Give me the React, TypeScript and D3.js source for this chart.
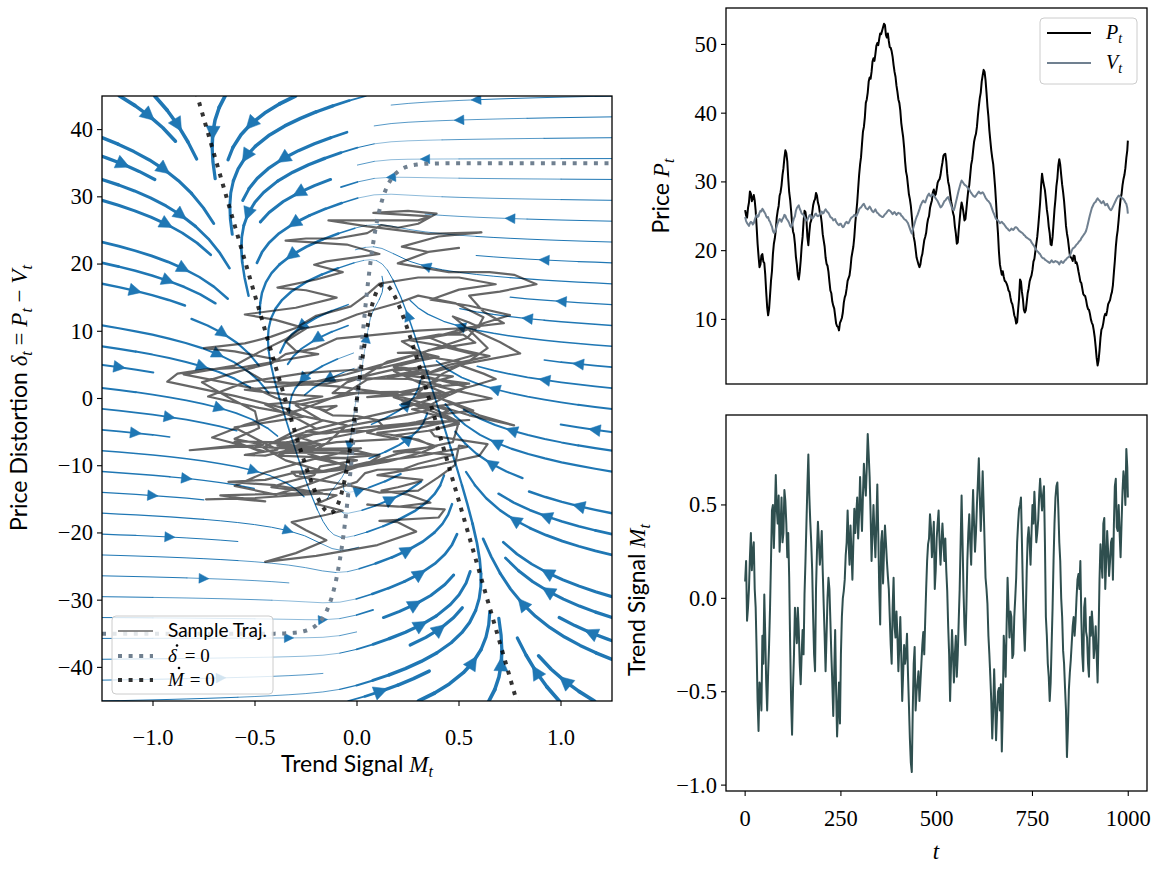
import React, { useMemo } from "react";
import * as d3 from "d3";

// ---------------- data ----------------
// sampled every 2.5 steps (last sample at t = 999)
const priceP = [
  25.9, 25.1, 24.8, 26.2, 27.0, 28.6, 28.3, 27.2, 27.6, 28.1, 27.3, 25.8, 23.5, 21.0, 19.2, 17.6, 18.0, 19.3, 19.5, 18.4,
  18.2, 16.5, 14.0, 11.8, 10.6, 11.5, 13.5, 15.6, 17.0, 19.5, 21.0, 21.8, 23.0, 24.8, 25.8, 26.5, 28.0, 28.5, 29.5, 31.0,
  32.0, 33.5, 34.6, 34.2, 33.0, 30.5, 28.5, 27.4, 25.8, 24.0, 22.8, 22.3, 21.0, 19.1, 18.0, 16.4, 15.8, 16.9, 18.5, 20.6,
  22.0, 24.2, 25.8, 25.6, 24.5, 22.0, 20.8, 22.6, 24.0, 24.4, 25.5, 26.6, 27.2, 27.5, 28.4, 28.0, 27.0, 26.5, 25.5, 25.1,
  24.0, 22.4, 21.5, 20.6, 19.0, 18.1, 17.8, 16.9, 15.5, 14.2, 13.8, 12.6, 12.0, 11.6, 10.5, 9.4, 9.0, 8.9, 8.4, 9.5,
  9.8, 10.2, 11.0, 12.4, 13.2, 13.6, 14.5, 15.6, 16.0, 16.4, 17.5, 19.0, 19.8, 20.6, 22.0, 24.0, 25.5, 27.0, 29.0, 31.0,
  32.5, 33.6, 35.5, 37.3, 38.0, 39.4, 41.5, 42.0, 43.0, 44.6, 45.2, 45.0, 46.0, 47.5, 48.0, 47.6, 48.6, 49.8, 50.2, 49.9,
  50.8, 51.6, 51.5, 52.0, 52.5, 53.0, 52.8, 51.4, 51.0, 51.6, 50.5, 49.6, 49.5, 49.0, 48.2, 47.0, 46.0, 45.3, 44.0, 43.1,
  42.0, 41.5, 40.4, 38.6, 37.5, 36.5, 35.0, 33.0, 31.5, 30.8, 29.5, 28.2, 27.5, 26.5, 25.0, 23.4, 22.0, 21.3, 20.2, 19.0,
  18.5, 18.0, 17.6, 18.0, 19.0, 19.5, 20.5, 21.5, 22.0, 22.6, 23.8, 24.6, 25.0, 26.2, 26.8, 27.3, 28.5, 28.9, 28.0, 28.2,
  29.0, 29.9, 30.2, 30.4, 31.0, 32.0, 32.8, 33.8, 34.0, 34.1, 33.0, 31.2, 30.0, 29.4, 28.3, 27.2, 26.5, 25.5, 25.0, 23.5,
  22.5, 21.0, 21.2, 23.0, 24.5, 26.0, 27.0, 26.4, 25.5, 24.4, 24.6, 26.0, 27.5, 28.8, 29.5, 31.0, 32.5, 33.2, 34.5, 35.8,
  36.5, 37.0, 38.0, 39.6, 41.0, 42.2, 43.0, 44.6, 45.5, 46.3, 46.0, 44.8, 43.0, 41.0, 39.5, 37.5, 36.0, 34.6, 33.5, 32.6,
  31.0, 29.2, 27.0, 24.5, 22.5, 19.8, 18.0, 17.2, 16.5, 17.0, 16.2, 15.6, 15.5, 15.2, 14.8, 14.2, 14.0, 13.2, 12.5, 12.2,
  11.5, 10.6, 10.2, 9.4, 9.6, 11.4, 13.0, 15.8, 15.5, 14.0, 13.0, 11.4, 11.0, 11.3, 12.5, 13.8, 14.5, 15.5, 16.0, 16.4,
  17.2, 18.4, 18.8, 19.9, 21.0, 22.0, 23.5, 25.2, 27.0, 29.4, 31.2, 30.2, 29.5, 28.8, 27.5, 26.0, 25.0, 23.5, 22.5, 20.9,
  20.8, 22.0, 24.0, 26.0, 27.5, 29.4, 30.5, 32.4, 33.3, 32.5, 31.0, 29.6, 28.5, 27.2, 25.5, 23.6, 22.5, 21.7, 20.5, 19.4,
  19.0, 18.9, 18.5, 19.3, 19.2, 18.2, 18.3, 17.8, 17.0, 16.3, 15.5, 15.3, 14.5, 13.7, 13.5, 13.4, 12.8, 12.0, 11.5, 11.4,
  10.8, 10.0, 9.5, 9.2, 8.4, 7.4, 6.0, 4.4, 3.3, 4.0, 5.5, 7.3, 8.5, 8.8, 9.5, 10.4, 10.8, 10.6, 11.3, 12.2,
  12.5, 12.8, 13.5, 14.0, 15.0, 16.8, 18.5, 20.5, 22.0, 23.0, 24.5, 26.2, 27.5, 28.2, 29.5, 30.4, 31.0, 32.0, 33.5, 34.6,
  36.0,
];

const valueV = [
  24.9, 24.3, 24.0, 23.8, 23.6, 24.0, 24.2, 24.1, 23.8, 24.0, 24.5, 24.9, 25.2, 24.9, 25.0, 25.5, 25.8, 25.7, 26.1, 25.9,
  25.6, 25.4, 25.0, 24.8, 24.9, 24.4, 24.2, 23.8, 23.5, 22.9, 22.6, 22.7, 23.0, 23.6, 24.0, 24.3, 24.6, 24.5, 24.2, 24.6,
  24.8, 25.2, 25.1, 24.7, 24.5, 24.3, 24.0, 23.6, 23.4, 23.7, 24.2, 24.7, 25.0, 25.8, 26.2, 26.4, 26.6, 26.1, 25.8, 25.4,
  25.3, 25.2, 24.9, 24.6, 24.4, 24.5, 24.8, 25.1, 25.2, 24.9, 24.7, 24.8, 25.0, 25.3, 25.4, 25.1, 25.0, 25.1, 25.3, 25.6,
  25.7, 25.4, 25.5, 25.8, 26.0, 25.8, 25.6, 25.5, 25.2, 24.9, 24.8, 24.7, 24.4, 24.5, 24.6, 24.2, 24.0, 23.8, 23.7, 23.9,
  23.9, 23.6, 23.4, 23.5, 23.8, 24.1, 24.2, 24.0, 24.0, 24.3, 24.6, 24.8, 24.9, 25.0, 25.2, 25.1, 25.0, 25.3, 25.6, 26.0,
  26.2, 26.3, 26.5, 26.7, 26.8, 26.5, 26.2, 26.1, 26.0, 26.2, 26.4, 26.2, 25.9, 25.7, 25.6, 25.8, 26.0, 25.7, 25.5, 25.4,
  25.2, 25.1, 25.0, 24.9, 24.9, 25.1, 25.3, 25.4, 25.6, 25.8, 25.9, 25.8, 25.7, 25.5, 25.3, 25.5, 25.6, 25.4, 25.2, 25.4,
  25.5, 25.4, 25.4, 25.1, 25.0, 24.8, 24.6, 24.5, 24.4, 24.2, 24.0, 23.6, 23.2, 22.8, 22.5, 23.0, 23.5, 24.0, 24.5, 24.9,
  25.2, 25.6, 26.0, 26.5, 26.8, 27.1, 27.3, 27.1, 27.0, 27.4, 27.8, 28.1, 28.3, 28.0, 27.9, 28.1, 28.2, 28.0, 27.8, 27.6,
  27.4, 27.2, 26.9, 26.6, 26.3, 26.4, 26.6, 26.9, 27.2, 27.3, 27.5, 27.7, 27.8, 27.4, 27.0, 26.6, 26.2, 26.0, 25.9, 26.4,
  27.0, 27.6, 28.2, 28.8, 29.3, 29.8, 30.2, 30.0, 29.8, 29.6, 29.5, 29.4, 29.2, 29.0, 28.9, 28.6, 28.4, 28.2, 28.0, 27.9,
  27.8, 28.0, 28.2, 28.4, 28.6, 28.4, 28.3, 28.4, 28.5, 28.3, 28.0, 27.7, 27.5, 27.3, 27.2, 27.0, 26.8, 26.4, 26.0, 25.6,
  25.3, 24.9, 24.6, 24.5, 24.4, 24.2, 24.0, 24.1, 24.2, 24.0, 23.9, 23.7, 23.5, 23.3, 23.2, 23.0, 22.9, 23.0, 23.2, 23.1,
  23.0, 23.2, 23.4, 23.4, 23.3, 23.1, 22.9, 22.8, 22.7, 22.6, 22.5, 22.3, 22.2, 22.0, 21.9, 21.8, 21.7, 21.6, 21.5, 21.2,
  21.0, 20.8, 20.6, 20.3, 20.1, 19.9, 19.8, 19.6, 19.5, 19.2, 19.0, 18.9, 18.9, 18.7, 18.6, 18.5, 18.4, 18.3, 18.2, 18.4,
  18.6, 18.4, 18.3, 18.4, 18.5, 18.4, 18.4, 18.2, 18.0, 18.3, 18.5, 18.3, 18.2, 18.4, 18.6, 18.7, 18.9, 19.0, 19.1, 19.3,
  19.6, 20.0, 20.3, 20.4, 20.5, 20.7, 20.9, 21.0, 21.2, 21.4, 21.5, 21.8, 22.0, 22.2, 22.4, 22.6, 22.9, 23.4, 24.0, 24.6,
  25.2, 25.7, 26.2, 26.5, 26.8, 27.0, 27.1, 27.4, 27.6, 27.4, 27.3, 27.1, 26.9, 27.0, 27.2, 26.9, 26.6, 26.7, 26.8, 26.5,
  26.2, 26.0, 25.9, 26.1, 26.4, 26.7, 27.0, 27.3, 27.6, 27.8, 28.0, 27.9, 27.8, 27.7, 27.6, 27.5, 27.3, 27.0, 26.8, 26.2,
  25.4,
];

const trendM = [
  0.09, 0.2, -0.12, -0.05, 0.05, 0.22, 0.35, 0.15, 0.25, 0.3, 0.05, -0.05, -0.28, -0.55, -0.71, -0.45, -0.48, -0.6, -0.2, -0.35,
  0.02, -0.2, -0.45, -0.6, -0.4, -0.25, -0.05, 0.2, 0.47, 0.5, 0.27, 0.45, 0.66, 0.48, 0.4, 0.55, 0.25, 0.38, 0.54, 0.3,
  0.35, 0.58, 0.52, 0.4, 0.22, 0.35, 0.11, -0.25, -0.55, -0.73, -0.48, -0.3, -0.05, -0.15, -0.24, -0.05, -0.17, -0.35, -0.46, -0.3,
  -0.17, -0.3, 0.02, 0.2, 0.4, 0.6, 0.77, 0.55, 0.41, 0.3, 0.15, -0.1, -0.3, -0.39, 0.05, 0.25, 0.41, 0.3, 0.18, 0.25,
  0.36, 0.15, -0.03, -0.2, -0.39, -0.2, 0.0, 0.11, 0.05, -0.12, -0.3, -0.45, -0.63, -0.4, -0.17, -0.5, -0.74, -0.6, -0.45, -0.67,
  -0.3, -0.1, 0.0, 0.04, 0.1, 0.23, 0.3, 0.47, 0.3, 0.18, 0.39, 0.25, 0.1, 0.3, 0.48, 0.35, 0.45, 0.54, 0.32, 0.45,
  0.65, 0.5, 0.36, 0.55, 0.72, 0.62, 0.55, 0.7, 0.88, 0.77, 0.65, 0.45, 0.2, 0.35, 0.5, 0.35, 0.22, 0.4, 0.61, 0.35,
  0.05, -0.14, 0.3, 0.36, 0.08, 0.25, 0.39, 0.3, 0.2, 0.12, 0.05, -0.1, -0.25, -0.35, -0.05, 0.11, -0.15, -0.21, -0.07, -0.2,
  -0.39, -0.25, -0.1, -0.3, -0.55, -0.4, -0.25, -0.35, -0.3, -0.19, -0.4, -0.57, -0.75, -0.88, -0.93, -0.6, -0.35, -0.26, -0.6, -0.5,
  -0.45, -0.39, -0.55, -0.45, -0.35, -0.25, -0.18, -0.3, -0.12, 0.05, 0.2, 0.29, 0.32, 0.45, 0.38, 0.22, 0.3, 0.41, 0.05, 0.15,
  0.32, 0.4, 0.47, 0.3, 0.18, 0.3, 0.4, 0.3, 0.2, 0.32, 0.15, 0.04, -0.15, -0.3, -0.55, -0.35, -0.17, -0.3, -0.45, -0.3,
  -0.2, -0.42, -0.3, -0.12, 0.05, 0.3, 0.55, 0.3, 0.04, -0.15, -0.25, -0.05, 0.2, 0.35, 0.45, 0.3, 0.18, 0.4, 0.58, 0.4,
  0.25, 0.35, 0.5, 0.62, 0.75, 0.55, 0.36, 0.5, 0.68, 0.5, 0.3, 0.11, 0.05, -0.03, -0.2, -0.3, -0.42, -0.55, -0.75, -0.6,
  -0.38, -0.55, -0.76, -0.62, -0.5, -0.48, -0.6, -0.46, -0.82, -0.6, -0.2, -0.3, -0.42, -0.15, 0.11, -0.05, -0.21, -0.07, -0.1, -0.32,
  -0.3, -0.1, 0.0, 0.11, 0.3, 0.4, 0.48, 0.5, 0.54, 0.3, 0.05, -0.15, -0.28, -0.1, 0.15, 0.32, 0.38, 0.3, 0.18, 0.35,
  0.5, 0.4, 0.57, 0.45, 0.3, 0.35, 0.42, 0.55, 0.64, 0.55, 0.47, 0.55, 0.6, 0.3, -0.1, -0.2, -0.35, -0.42, -0.55, -0.45,
  -0.25, -0.05, 0.2, 0.4, 0.54, 0.6, 0.62, 0.48, 0.3, 0.2, 0.0, -0.1, -0.28, -0.35, -0.48, -0.6, -0.85, -0.7, -0.49, -0.4,
  -0.33, -0.24, -0.15, -0.1, -0.2, -0.12, 0.0, 0.1, 0.13, 0.05, 0.2, -0.1, -0.3, -0.39, -0.05, 0.0, -0.18, -0.21, -0.35, -0.42,
  -0.1, -0.2, -0.07, -0.15, -0.32, -0.25, -0.15, -0.3, -0.45, -0.2, 0.1, 0.29, 0.2, 0.11, 0.4, 0.43, 0.05, 0.2, 0.36, 0.25,
  0.12, 0.2, 0.3, 0.32, 0.1, 0.39, 0.6, 0.64, 0.38, 0.36, 0.5, 0.35, 0.22, 0.4, 0.57, 0.68, 0.62, 0.5, 0.8, 0.7,
  0.54,
];

const timeIdx = priceP.map((_, i) => (i === priceP.length - 1 ? 999 : i * 2.5));

const deltaTicks = [-40, -30, -20, -10, 0, 10, 20, 30, 40];
const mTicks = [-1.0, -0.5, 0.0, 0.5, 1.0];
const priceTicks = [10, 20, 30, 40, 50];
const trendTicks = [-1.0, -0.5, 0.0, 0.5];
const timeTicks = [0, 250, 500, 750, 1000];

// phase-plane model (fitted to the nullclines seen in the picture)
const deltaNullAmp = 35; // delta-dot = 0 :  delta = 35 tanh(10 M)
const deltaNullSlope = 10;
const mGain = 37.2; // M-dot = 0 : delta = 37.2 tanh(9 M) - 105 M
const mSteep = 9;
const mDamp = 105;
const relaxRatio = 8.6;

// ---------------- styles ----------------
const SERIF = "'Liberation Serif', 'DejaVu Serif', serif";
const SANS = "Lato, 'DejaVu Sans', sans-serif";
const BLUE = "#1f77b4";
const SLATE = "#708090";
const DARKSLATE = "#2f4f4f";

function fieldAt(M: number, d: number): [number, number] {
  const dm = mGain * Math.tanh(mSteep * M) - mDamp * M - d;
  const dd = relaxRatio * (deltaNullAmp * Math.tanh(deltaNullSlope * M) - d);
  return [dm, dd];
}

const XR: [number, number] = [-1.25, 1.25];
const YR: [number, number] = [-45, 45];

function computeStreams() {
  const xs = XR[1] - XR[0];
  const ys = YR[1] - YR[0];
  const NM = 30;
  const mask = new Uint8Array(NM * NM);
  let cells: number[] = [];
  let current = -1;
  const inside = (X: number, Y: number) => X >= 0 && X <= 1 && Y >= 0 && Y <= 1;
  const cellOf = (X: number, Y: number) =>
    Math.round(Y * (NM - 1)) * NM + Math.round(X * (NM - 1));
  const vel = (X: number, Y: number, sgn: number): [number, number] | null => {
    const [a, b] = fieldAt(XR[0] + X * xs, YR[0] + Y * ys);
    const u = a / xs;
    const v = b / ys;
    const sp = Math.hypot(u, v);
    if (sp === 0) return null;
    return [(sgn * u) / sp, (sgn * v) / sp];
  };
  const update = (X: number, Y: number) => {
    if (!inside(X, Y)) return false;
    const c = cellOf(X, Y);
    if (c !== current) {
      if (mask[c] === 0) {
        cells.push(c);
        mask[c] = 1;
        current = c;
      } else return false;
    }
    return true;
  };
  const eulerToEdge = (pts: [number, number][], sgn: number) => {
    const [xi, yi] = pts[pts.length - 1];
    const k = vel(xi, yi, sgn);
    if (!k) return 0;
    const [cx, cy] = k;
    const dsx = cx === 0 ? Infinity : cx < 0 ? xi / -cx : (1 - xi) / cx;
    const dsy = cy === 0 ? Infinity : cy < 0 ? yi / -cy : (1 - yi) / cy;
    const ds = Math.min(dsx, dsy);
    pts.push([xi + cx * ds, yi + cy * ds]);
    return ds;
  };
  const rk12 = (X0: number, Y0: number, sgn: number) => {
    const maxerror = 0.003;
    const maxds = Math.min(1 / NM, 0.1);
    const maxlength = 4;
    let ds = maxds;
    let stotal = 0;
    let xi = X0;
    let yi = Y0;
    const pts: [number, number][] = [];
    for (let it = 0; it < 20000; it++) {
      if (inside(xi, yi)) pts.push([xi, yi]);
      else {
        if (pts.length) stotal += eulerToEdge(pts, sgn);
        break;
      }
      const k1 = vel(xi, yi, sgn);
      if (!k1) break;
      const x2 = xi + ds * k1[0];
      const y2 = yi + ds * k1[1];
      if (!inside(x2, y2)) {
        stotal += eulerToEdge(pts, sgn);
        break;
      }
      const k2 = vel(x2, y2, sgn);
      if (!k2) break;
      const dx1 = ds * k1[0];
      const dy1 = ds * k1[1];
      const dx2 = ds * 0.5 * (k1[0] + k2[0]);
      const dy2 = ds * 0.5 * (k1[1] + k2[1]);
      const err = Math.hypot(dx2 - dx1, dy2 - dy1);
      if (err < maxerror) {
        xi += dx2;
        yi += dy2;
        if (!update(xi, yi)) break;
        if (stotal + ds > maxlength) break;
        stotal += ds;
      }
      ds = err === 0 ? maxds : Math.min(maxds, 0.85 * ds * Math.sqrt(maxerror / err));
    }
    return { stotal, pts };
  };

  // spiral starting points
  const starts: [number, number][] = [];
  {
    let xfirst = 0, yfirst = 1, xlast = NM - 1, ylast = NM - 1, x = 0, y = 0, dir = 0;
    for (let i = 0; i < NM * NM; i++) {
      starts.push([x, y]);
      if (dir === 0) { x++; if (x >= xlast) { xlast--; dir = 1; } }
      else if (dir === 1) { y++; if (y >= ylast) { ylast--; dir = 2; } }
      else if (dir === 2) { x--; if (x <= xfirst) { xfirst++; dir = 3; } }
      else { y--; if (y <= yfirst) { yfirst++; dir = 0; } }
    }
  }

  const trajs: [number, number][][] = [];
  for (const [xm, ym] of starts) {
    if (mask[ym * NM + xm] !== 0) continue;
    const X0 = xm / (NM - 1);
    const Y0 = ym / (NM - 1);
    cells = [];
    const c0 = cellOf(X0, Y0);
    if (c0 !== current) {
      if (mask[c0] === 0) {
        cells.push(c0);
        mask[c0] = 1;
        current = c0;
      } else continue;
    }
    const b = rk12(X0, Y0, -1);
    current = cellOf(X0, Y0);
    const f = rk12(X0, Y0, 1);
    const total = b.stotal + f.stotal;
    const pts = b.pts.slice().reverse().concat(f.pts.slice(1));
    if (total > 0.1 && pts.length >= 2) {
      trajs.push(pts.map(([X, Y]) => [XR[0] + X * xs, YR[0] + Y * ys] as [number, number]));
    } else {
      for (const c of cells) mask[c] = 0;
    }
  }
  return trajs;
}

type Seg = { t: string; f?: "sans" | "it" | "rm"; sub?: string };

function MathLabel(props: {
  segs: Seg[];
  size: number;
  x: number;
  y: number;
  rotate?: boolean;
  anchor?: "start" | "middle" | "end";
}) {
  const { segs, size, x, y, rotate, anchor = "middle" } = props;
  const children: any[] = [];
  let pending = 0;
  segs.forEach((s, i) => {
    children.push(
      <tspan
        key={`m${i}`}
        dy={pending !== 0 ? pending : undefined}
        fontFamily={s.f === "sans" ? SANS : SERIF}
        fontStyle={s.f === "it" ? "italic" : "normal"}
      >
        {s.t}
      </tspan>
    );
    pending = 0;
    if (s.sub) {
      children.push(
        <tspan
          key={`s${i}`}
          dy={size * 0.22}
          fontFamily={SERIF}
          fontStyle="italic"
          fontSize={size * 0.7}
        >
          {s.sub}
        </tspan>
      );
      pending = -size * 0.22;
    }
  });
  const transform = rotate ? `translate(${x},${y}) rotate(-90)` : `translate(${x},${y})`;
  return (
    <text transform={transform} textAnchor={anchor} fontSize={size} fill="#000" style={{ whiteSpace: "pre" }}>
      {children}
    </text>
  );
}

export default function App() {
  const W = 1162;
  const H = 872;
  const L = { x0: 102, x1: 612, y0: 96, y1: 701 };
  const R1 = { x0: 726, x1: 1147, y0: 8, y1: 384 };
  const R2 = { x0: 726, x1: 1147, y0: 415, y1: 791 };

  const xM = d3.scaleLinear().domain(XR).range([L.x0, L.x1]);
  const yD = d3.scaleLinear().domain(YR).range([L.y1, L.y0]);
  const xT = d3.scaleLinear().domain([-49.95, 1048.95]).range([R1.x0, R1.x1]);
  const yP = d3.scaleLinear().domain([0.6, 55.3]).range([R1.y1, R1.y0]);
  const yMt = d3.scaleLinear().domain([-1.0315, 0.9815]).range([R2.y1, R2.y0]);

  const streams = useMemo(() => {
    const trajs = computeStreams();
    let maxSpeed = 0;
    for (let i = 0; i <= 50; i++)
      for (let j = 0; j <= 50; j++) {
        const [a, b] = fieldAt(XR[0] + (i / 50) * 2.5, YR[0] + (j / 50) * 90);
        maxSpeed = Math.max(maxSpeed, Math.hypot(a, b));
      }
    const lwAt = (M: number, d: number) => {
      const [a, b] = fieldAt(M, d);
      return 0.35 + 3.3 * (Math.hypot(a, b) / maxSpeed);
    };
    const out: { runs: { d: string; w: number }[]; arrow: { x: number; y: number; ang: number; w: number } }[] = [];
    for (const t of trajs) {
      const px = t.map(([m, d]) => [xM(m), yD(d)] as [number, number]);
      const ws = t.map(([m, d]) => lwAt(m, d));
      const runs: { d: string; w: number }[] = [];
      let runPts: [number, number][] = [px[0]];
      let runW = Math.round(ws[0] * 4) / 4;
      for (let i = 0; i < px.length - 1; i++) {
        const q = Math.round(ws[i] * 4) / 4;
        if (q !== runW && runPts.length > 1) {
          runs.push({ d: d3.line()(runPts) as string, w: runW });
          runPts = [px[i]];
        }
        runW = q;
        runPts.push(px[i + 1]);
      }
      if (runPts.length > 1) runs.push({ d: d3.line()(runPts) as string, w: runW });
      const s: number[] = [];
      let acc = 0;
      for (let i = 0; i < t.length - 1; i++) {
        acc += Math.hypot(t[i + 1][0] - t[i][0], t[i + 1][1] - t[i][1]);
        s.push(acc);
      }
      let n = d3.bisectLeft(s, acc / 2);
      n = Math.min(n, px.length - 2);
      const tail = px[n];
      const head = [(px[n][0] + px[n + 1][0]) / 2, (px[n][1] + px[n + 1][1]) / 2];
      const ang = Math.atan2(head[1] - tail[1], head[0] - tail[0]);
      out.push({ runs, arrow: { x: tail[0], y: tail[1], ang, w: ws[n] } });
    }
    return out;
  }, []);

  const trajLine = d3
    .line<number>()
    .x((i) => xM(trendM[i]))
    .y((i) => yD(priceP[i] - valueV[i]));
  const idx = priceP.map((_, i) => i);

  const mGrid = d3.range(0, 1201).map((i) => XR[0] + (i / 1200) * 2.5);
  const deltaNull = d3
    .line<number>()
    .x((m) => xM(m))
    .y((m) => yD(deltaNullAmp * Math.tanh(deltaNullSlope * m)));
  const mNull = d3
    .line<number>()
    .x((m) => xM(m))
    .y((m) => yD(mGain * Math.tanh(mSteep * m) - mDamp * m));

  const pLine = d3.line<number>().x((i) => xT(timeIdx[i])).y((i) => yP(priceP[i]));
  const vLine = d3.line<number>().x((i) => xT(timeIdx[i])).y((i) => yP(valueV[i]));
  const mLine = d3.line<number>().x((i) => xT(timeIdx[i])).y((i) => yMt(trendM[i]));

  const fmt1 = d3.format(".1f");
  const fmt0 = d3.format("d");
  const tickFont = 22.5;
  const labFont = 23;
  const legFont = 19;
  const dotLW = 4;
  const dotDash = "4 6.6";

  return (
    <svg width={W} height={H} style={{ position: "absolute", left: 0, top: 0, background: "#fff" }}>
      <defs>
        <clipPath id="clipL">
          <rect x={L.x0} y={L.y0} width={L.x1 - L.x0} height={L.y1 - L.y0} />
        </clipPath>
        <clipPath id="clipR1">
          <rect x={R1.x0} y={R1.y0} width={R1.x1 - R1.x0} height={R1.y1 - R1.y0} />
        </clipPath>
        <clipPath id="clipR2">
          <rect x={R2.x0} y={R2.y0} width={R2.x1 - R2.x0} height={R2.y1 - R2.y0} />
        </clipPath>
      </defs>
      <rect x={0} y={0} width={W} height={H} fill="#fff" />

      {/* ---------- left: phase plane ---------- */}
      <g clipPath="url(#clipL)">
        {streams.map((s, i) => (
          <g key={i}>
            {s.runs.map((r, j) => (
              <path key={j} d={r.d} fill="none" stroke={BLUE} strokeWidth={r.w} strokeLinecap="round" strokeLinejoin="round" />
            ))}
            {(() => {
              const Lh = 8.5 + 1.6 * s.arrow.w;
              const hw = Lh * 0.5;
              const c = Math.cos(s.arrow.ang);
              const sn = Math.sin(s.arrow.ang);
              const tipX = s.arrow.x + c * Lh * 0.5;
              const tipY = s.arrow.y + sn * Lh * 0.5;
              const bx = s.arrow.x - c * Lh * 0.5;
              const by = s.arrow.y - sn * Lh * 0.5;
              const pts = [
                [tipX, tipY],
                [bx - sn * hw, by + c * hw],
                [bx + sn * hw, by - c * hw],
              ];
              return <polygon points={pts.map((p) => p.join(",")).join(" ")} fill={BLUE} stroke={BLUE} strokeWidth={0.5} />;
            })()}
          </g>
        ))}
        <path d={trajLine(idx) as string} fill="none" stroke="#000" strokeOpacity={0.6} strokeWidth={2.2} strokeLinejoin="round" />
        <path d={deltaNull(mGrid) as string} fill="none" stroke={SLATE} strokeWidth={dotLW} strokeDasharray={dotDash} />
        <path d={mNull(mGrid) as string} fill="none" stroke="#000" strokeOpacity={0.8} strokeWidth={dotLW} strokeDasharray={dotDash} />
      </g>
      <rect x={L.x0} y={L.y0} width={L.x1 - L.x0} height={L.y1 - L.y0} fill="none" stroke="#000" strokeWidth={1.3} />
      {deltaTicks.map((v) => (
        <g key={`dy${v}`}>
          <line x1={L.x0 - 5} x2={L.x0} y1={yD(v)} y2={yD(v)} stroke="#000" strokeWidth={1.1} />
          <text x={L.x0 - 9} y={yD(v)} dy="0.33em" textAnchor="end" fontFamily={SERIF} fontSize={tickFont}>
            {fmt0(v)}
          </text>
        </g>
      ))}
      {mTicks.map((v) => (
        <g key={`mx${v}`}>
          <line x1={xM(v)} x2={xM(v)} y1={L.y1} y2={L.y1 + 5} stroke="#000" strokeWidth={1.1} />
          <text x={xM(v)} y={L.y1 + 44} textAnchor="middle" fontFamily={SERIF} fontSize={tickFont}>
            {fmt1(v)}
          </text>
        </g>
      ))}
      <MathLabel segs={[{ t: "Trend Signal ", f: "sans" }, { t: "M", f: "it", sub: "t" }]} size={labFont} x={357} y={772} />
      <MathLabel
        segs={[
          { t: "Price Distortion ", f: "sans" },
          { t: "δ", f: "it", sub: "t" },
          { t: " = ", f: "rm" },
          { t: "P", f: "it", sub: "t" },
          { t: " − ", f: "rm" },
          { t: "V", f: "it", sub: "t" },
        ]}
        size={labFont}
        x={27}
        y={398}
        rotate
      />
      {/* legend left */}
      <g>
        <rect x={112} y={616} width={161} height={78} rx={4} fill="#fff" fillOpacity={0.8} stroke="#ccc" strokeWidth={1} />
        <line x1={118} x2={153} y1={631} y2={631} stroke="#000" strokeOpacity={0.6} strokeWidth={1.4} />
        <text x={168} y={637} fontFamily={SANS} fontSize={legFont}>Sample Traj.</text>
        <line x1={118} x2={153} y1={656} y2={656} stroke={SLATE} strokeWidth={dotLW} strokeDasharray={dotDash} />
        <text x={168} y={662} fontSize={legFont} fontFamily={SERIF} fontStyle="italic">δ</text>
        <circle cx={177} cy={645.5} r={1.3} fill="#000" />
        <text x={180} y={662} fontSize={legFont} fontFamily={SERIF} style={{ whiteSpace: "pre" }}>{" = 0"}</text>
        <line x1={118} x2={153} y1={680} y2={680} stroke="#000" strokeOpacity={0.8} strokeWidth={dotLW} strokeDasharray={dotDash} />
        <text x={168} y={686} fontSize={legFont} fontFamily={SERIF} fontStyle="italic">M</text>
        <circle cx={179} cy={668} r={1.3} fill="#000" />
        <text x={185} y={686} fontSize={legFont} fontFamily={SERIF} style={{ whiteSpace: "pre" }}>{" = 0"}</text>
      </g>

      {/* ---------- right top: price ---------- */}
      <g clipPath="url(#clipR1)">
        <path d={pLine(idx) as string} fill="none" stroke="#000" strokeWidth={2} strokeLinejoin="round" />
        <path d={vLine(idx) as string} fill="none" stroke={SLATE} strokeWidth={2} strokeLinejoin="round" />
      </g>
      <rect x={R1.x0} y={R1.y0} width={R1.x1 - R1.x0} height={R1.y1 - R1.y0} fill="none" stroke="#000" strokeWidth={1.3} />
      {priceTicks.map((v) => (
        <g key={`py${v}`}>
          <line x1={R1.x0 - 5} x2={R1.x0} y1={yP(v)} y2={yP(v)} stroke="#000" strokeWidth={1.1} />
          <text x={R1.x0 - 9} y={yP(v)} dy="0.33em" textAnchor="end" fontFamily={SERIF} fontSize={tickFont}>
            {fmt0(v)}
          </text>
        </g>
      ))}
      <MathLabel segs={[{ t: "Price ", f: "sans" }, { t: "P", f: "it", sub: "t" }]} size={labFont} x={669} y={196} rotate />
      <g>
        <rect x={1040} y={18} width={97} height={66} rx={4} fill="#fff" fillOpacity={0.8} stroke="#ccc" strokeWidth={1} />
        <line x1={1047} x2={1091} y1={33} y2={33} stroke="#000" strokeWidth={2} />
        <line x1={1047} x2={1091} y1={63} y2={63} stroke={SLATE} strokeWidth={2} />
        <MathLabel segs={[{ t: "P", f: "it", sub: "t" }]} size={legFont + 1} x={1106} y={39} anchor="start" />
        <MathLabel segs={[{ t: "V", f: "it", sub: "t" }]} size={legFont + 1} x={1106} y={69} anchor="start" />
      </g>

      {/* ---------- right bottom: trend ---------- */}
      <g clipPath="url(#clipR2)">
        <path d={mLine(idx) as string} fill="none" stroke={DARKSLATE} strokeWidth={2} strokeLinejoin="round" />
      </g>
      <rect x={R2.x0} y={R2.y0} width={R2.x1 - R2.x0} height={R2.y1 - R2.y0} fill="none" stroke="#000" strokeWidth={1.3} />
      {trendTicks.map((v) => (
        <g key={`ty${v}`}>
          <line x1={R2.x0 - 5} x2={R2.x0} y1={yMt(v)} y2={yMt(v)} stroke="#000" strokeWidth={1.1} />
          <text x={R2.x0 - 9} y={yMt(v)} dy="0.33em" textAnchor="end" fontFamily={SERIF} fontSize={tickFont}>
            {fmt1(v)}
          </text>
        </g>
      ))}
      {timeTicks.map((v) => (
        <g key={`tx${v}`}>
          <line x1={xT(v)} x2={xT(v)} y1={R2.y1} y2={R2.y1 + 5} stroke="#000" strokeWidth={1.1} />
          <text x={xT(v)} y={R2.y1 + 35} textAnchor="middle" fontFamily={SERIF} fontSize={tickFont}>
            {fmt0(v)}
          </text>
        </g>
      ))}
      <MathLabel segs={[{ t: "Trend Signal ", f: "sans" }, { t: "M", f: "it", sub: "t" }]} size={labFont} x={645} y={600} rotate />
      <text x={936} y={859} textAnchor="middle" fontFamily={SERIF} fontStyle="italic" fontSize={labFont}>t</text>
    </svg>
  );
}
